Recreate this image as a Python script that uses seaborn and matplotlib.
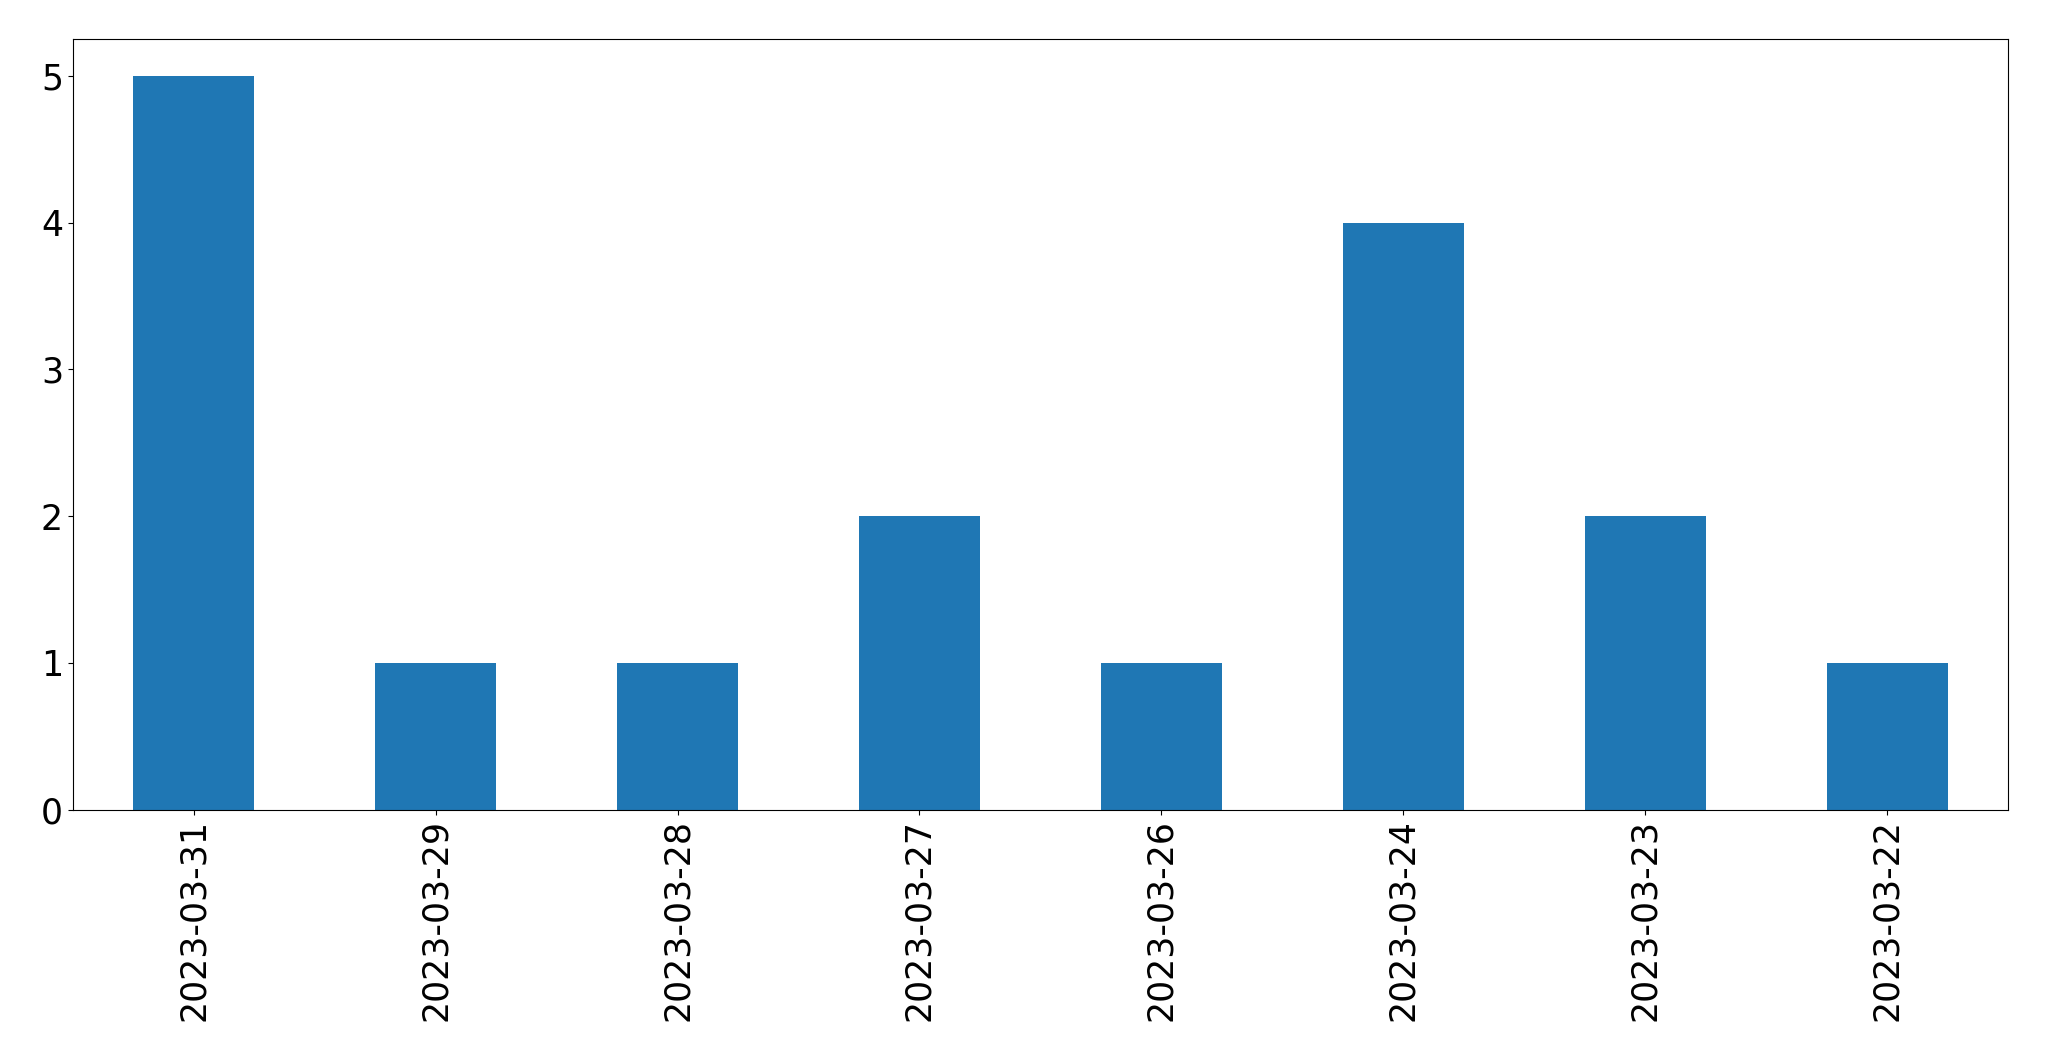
import matplotlib
matplotlib.use('Agg')
import matplotlib.pyplot as plt
import seaborn as sns
import pandas as pd

dates = ['2023-03-31', '2023-03-29', '2023-03-28', '2023-03-27',
         '2023-03-26', '2023-03-24', '2023-03-23', '2023-03-22']
counts = [5, 1, 1, 2, 1, 4, 2, 1]

df = pd.DataFrame({'date': dates, 'count': counts})

fig = plt.figure(figsize=(20.49, 10.61), dpi=100)
ax = fig.add_axes([0.0355, 0.237, 0.9445, 0.726])
sns.barplot(x='date', y='count', data=df, color='#1f77b4', saturation=1,
            width=0.5, ax=ax)
ax.set_xlim(-0.5, len(dates) - 0.5)
ax.set_ylim(0, 5.25)
ax.set_xlabel('')
ax.set_ylabel('')
ax.tick_params(axis='both', labelsize=25)
plt.setp(ax.get_xticklabels(), rotation=90)
fig.savefig('out.png', dpi=100)
